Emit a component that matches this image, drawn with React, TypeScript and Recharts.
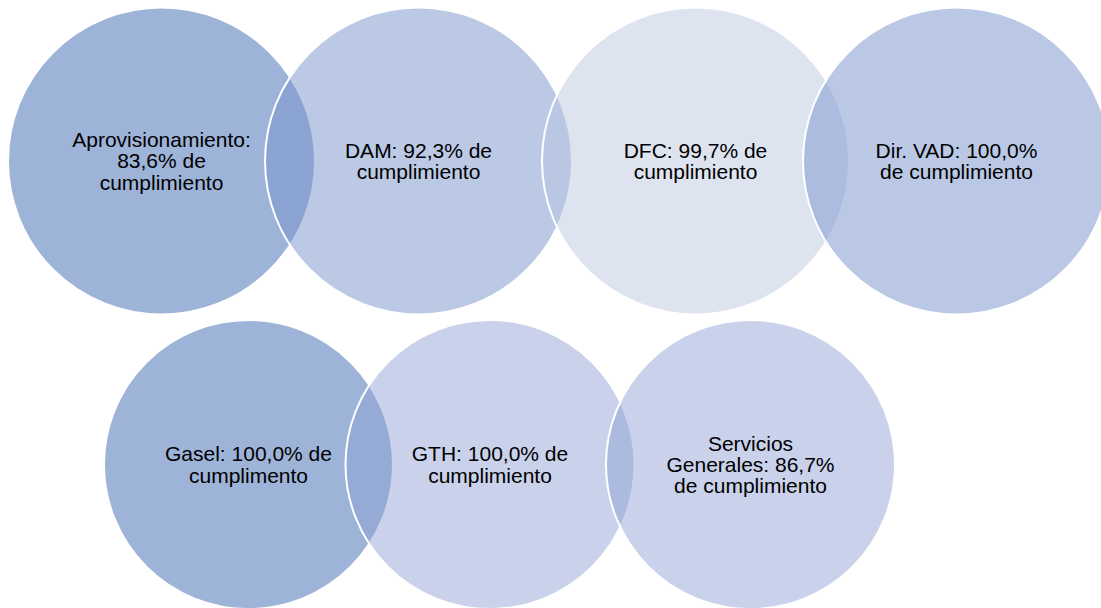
import { ScatterChart, Scatter, XAxis, YAxis } from 'recharts'

// areas and their compliance (%)
const areas = ['Aprovisionamiento', 'DAM', 'DFC', 'Dir. VAD', 'Gasel', 'GTH', 'Servicios Generales']
const cumplimiento = [83.6, 92.3, 99.7, 100.0, 100.0, 100.0, 86.7]
// the original text spells it "cumplimento" for Gasel
const tailWord = ['cumplimiento', 'cumplimiento', 'cumplimiento', 'cumplimiento', 'cumplimento', 'cumplimiento', 'cumplimiento']
// words per text line in each circle
const lineWords = [[1, 2, 1], [3, 1], [3, 1], [3, 2], [3, 1], [3, 1], [1, 2, 2]]

// circle layout in chart units
const xs = [161.5, 418.5, 695.5, 956.5, 248.5, 490, 750.5]
const ys = [161, 161, 161, 161, 464.5, 464.5, 464.5]
const rs = [153.5, 153.5, 153.5, 153.5, 144.5, 144.5, 144.5]

const W = 1101
const H = 608

const fills = ['#9EB3D8', '#7793CB', '#BAC5E0', '#849DD1', '#9EB3D8', '#8EA1D3', '#899CD1']
const opacities = [1, 0.5, 0.48, 0.56, 1, 0.48, 0.46]

const fmt = (v: number) => v.toFixed(1).replace('.', ',')

const data = areas.map((a, i) => {
  const words = `${a}: ${fmt(cumplimiento[i])}% de ${tailWord[i]}`.split(' ')
  const lines: string[] = []
  let k = 0
  lineWords[i].forEach((n) => {
    lines.push(words.slice(k, k + n).join(' '))
    k += n
  })
  return { x: xs[i], y: ys[i], r: rs[i], idx: i, lines }
})

const FS = 21
const LH = 21.4

function Bubble(props: any) {
  const { cx, cy, payload } = props
  const i = payload.idx
  const n = payload.lines.length
  return (
    <g>
      <circle cx={cx} cy={cy} r={payload.r} fill={fills[i]} fillOpacity={opacities[i]} stroke="#fff" strokeWidth={2} />
      <text textAnchor="middle" fontFamily="'Liberation Sans', Arial, sans-serif" fontSize={FS} fill="#000">
        {payload.lines.map((l: string, j: number) => (
          <tspan key={j} x={cx} y={cy + (j - (n - 1) / 2) * LH + 7.4}>
            {l}
          </tspan>
        ))}
      </text>
    </g>
  )
}

export default function App() {
  return (
    <div style={{ position: 'absolute', left: 0, top: 0, width: W, height: H, background: '#fff' }}>
      <ScatterChart width={W} height={H} margin={{ top: 0, right: 0, bottom: 0, left: 0 }}>
        <XAxis type="number" dataKey="x" domain={[0, W]} hide />
        <YAxis type="number" dataKey="y" domain={[0, H]} reversed hide />
        <Scatter data={data} shape={<Bubble />} isAnimationActive={false} />
      </ScatterChart>
    </div>
  )
}
